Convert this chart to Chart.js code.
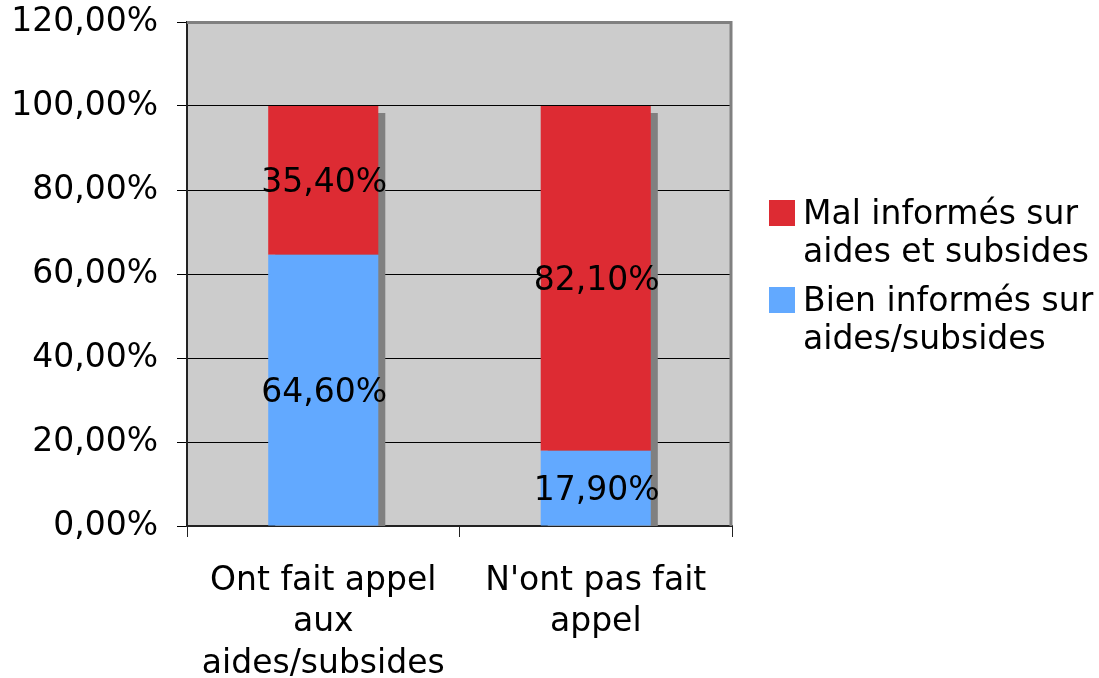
<!DOCTYPE html>
<html>
<head>
<meta charset="utf-8">
<script src="https://cdn.jsdelivr.net/npm/chart.js@4/dist/chart.umd.min.js"></script>
<style>
html,body{margin:0;padding:0;background:#fff;}
#wrap{width:1099px;height:678px;position:relative;}
</style>
</head>
<body>
<div id="wrap"><canvas id="c"></canvas></div>
<script>
const categories = [["Ont fait appel","aux","aides/subsides"], ["N'ont pas fait","appel"]];
const seriesMal = ["Mal informés sur","aides et subsides"];
const seriesBien = ["Bien informés sur","aides/subsides"];
const bienValues = [64.6, 17.9];
const malValues = [35.4, 82.1];
const yTicks = [0, 20, 40, 60, 80, 100, 120];

const RED = '#dd2b33';
const BLUE = '#62a9ff';
const FONT = "'DejaVu Sans', Verdana, sans-serif";

function fmt(v){ return v.toFixed(2).replace('.', ',') + '%'; }

const bgPlugin = {
  id: 'bg',
  beforeDraw(chart){
    const {ctx, chartArea:a} = chart;
    ctx.save();
    ctx.fillStyle = '#cccccc';
    ctx.fillRect(a.left, a.top, a.right - a.left, a.bottom - a.top);
    ctx.restore();
  },
  beforeDatasetsDraw(chart){
    const {ctx, chartArea:a} = chart;
    const m0 = chart.getDatasetMeta(0), m1 = chart.getDatasetMeta(1);
    ctx.save();
    ctx.beginPath();
    ctx.rect(a.left, a.top, a.right - a.left, a.bottom - a.top);
    ctx.clip();
    ctx.fillStyle = '#808080';
    m0.data.forEach((bar, i) => {
      const top = m1.data[i].y;
      const w = bar.width;
      ctx.fillRect(bar.x - w/2 + 7, top + 7, w, a.bottom - top);
    });
    ctx.restore();
  },
  afterDatasetsDraw(chart){
    const {ctx, chartArea:a} = chart;
    ctx.save();
    ctx.strokeStyle = '#808080';
    ctx.lineWidth = 3;
    ctx.beginPath();
    ctx.moveTo(a.left, a.top + 0.5);
    ctx.lineTo(a.right - 1, a.top + 0.5);
    ctx.lineTo(a.right - 1, a.bottom);
    ctx.stroke();
    ctx.fillStyle = '#000';
    ctx.font = '33px ' + FONT;
    ctx.textAlign = 'center';
    ctx.textBaseline = 'middle';
    chart.data.datasets.forEach((ds, di) => {
      chart.getDatasetMeta(di).data.forEach((bar, i) => {
        const yc = (bar.y + bar.base) / 2 + 3;
        ctx.fillText(fmt(ds.data[i]), bar.x + 1, yc);
      });
    });
    const items = [
      {color: RED, lines: seriesMal, y: 213},
      {color: BLUE, lines: seriesBien, y: 300}
    ];
    ctx.textAlign = 'left';
    items.forEach(it => {
      ctx.fillStyle = it.color;
      ctx.fillRect(769, it.y - 13, 26, 26);
      ctx.fillStyle = '#000';
      it.lines.forEach((ln, k) => ctx.fillText(ln, 803, it.y + 2 + k * 38));
    });
    ctx.restore();
  }
};

new Chart(document.getElementById('c'), {
  type: 'bar',
  data: {
    labels: categories,
    datasets: [
      {label: seriesBien.join(' '), data: bienValues, backgroundColor: BLUE, borderWidth: 0},
      {label: seriesMal.join(' '), data: malValues, backgroundColor: RED, borderWidth: 0}
    ]
  },
  options: {
    responsive: true,
    maintainAspectRatio: false,
    animation: false,
    layout: {padding: {top: 22, right: 367, left: 0, bottom: 0}},
    datasets: {bar: {categoryPercentage: 1, barPercentage: 0.404}},
    plugins: {legend: {display: false}, tooltip: {enabled: false}},
    scales: {
      x: {
        stacked: true,
        afterFit(s){ s.height = 152; s.paddingLeft = 0; s.paddingRight = 0; },
        border: {display: true, color: '#222', width: 2},
        grid: {display: true, drawOnChartArea: false, color: '#222', tickLength: 11, offset: true},
        ticks: {color: '#000', font: {family: FONT, size: 33, lineHeight: 1.27}, padding: 23, maxRotation: 0, autoSkip: false}
      },
      y: {
        stacked: true,
        min: 0, max: 120,
        afterFit(s){ s.width = 187; s.paddingTop = 0; s.paddingBottom = 0; },
        afterBuildTicks(s){ s.ticks = yTicks.map(v => ({value: v})); },
        border: {display: true, color: '#222', width: 2},
        grid: {color: '#000', lineWidth: 1, tickLength: 10},
        ticks: {color: '#000', font: {family: FONT, size: 33}, padding: 19, callback: v => fmt(v)}
      }
    }
  },
  plugins: [bgPlugin]
});
</script>
</body>
</html>
